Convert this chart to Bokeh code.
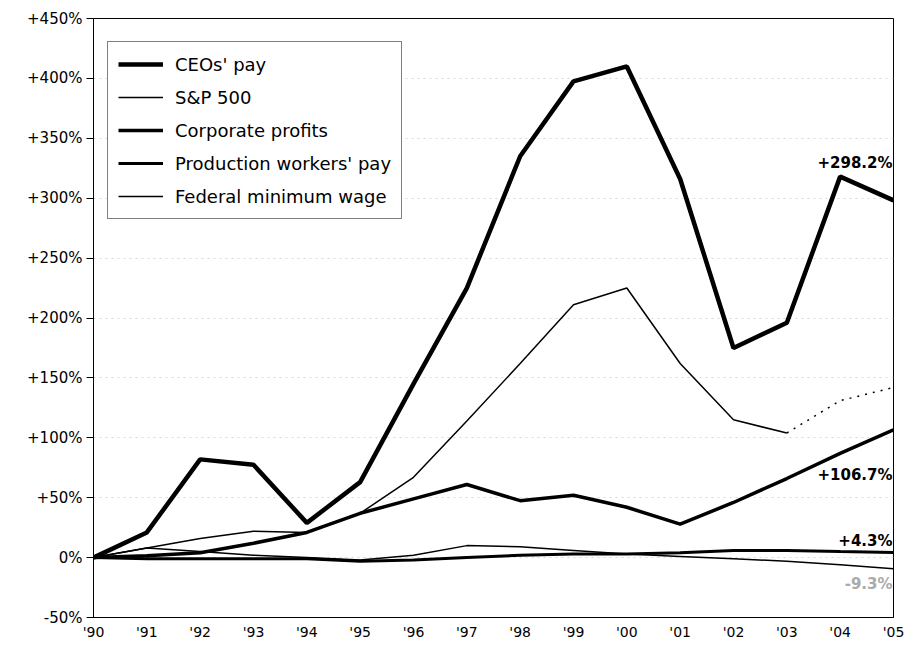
from bokeh.plotting import figure
from bokeh.models import Range1d, FixedTicker, Legend, LegendItem, Label
from bokeh.embed import file_html
from bokeh.resources import INLINE

years = list(range(1990, 2006))
year_labels = ["'90", "'91", "'92", "'93", "'94", "'95", "'96", "'97",
               "'98", "'99", "'00", "'01", "'02", "'03", "'04", "'05"]

ceo_pay = [0, 21, 82, 77.5, 29, 63, 145, 225, 335, 397.5, 410, 316, 175, 196, 318, 298.2]
sp500_solid = [0, 8, 16, 22, 21, 37, 67, 114, 162, 211, 225, 162, 115, 104]
sp500_dotted_years = [2003, 2004, 2005]
sp500_dotted = [104, 131, 142]
corp_profits = [0, 1.5, 4, 12, 21, 37, 49, 61, 47.5, 52, 42, 28, 46, 66, 87, 106.7]
workers_pay = [0, -1, -1, -1, -1, -3, -2, 0, 2, 3, 3, 4, 6, 6, 5, 4.3]
min_wage = [0, 8, 5, 2, 0, -2, 2, 10, 9, 6, 3, 1, -1, -3, -6, -9.3]

y_ticks = [-50, 0, 50, 100, 150, 200, 250, 300, 350, 400, 450]
y_labels = {v: ("+%d%%" % v if v > 0 else "%d%%" % v) for v in y_ticks}

end_labels = [("+298.2%", 2005, 329, "#000000"),
              ("+106.7%", 2005, 69, "#000000"),
              ("+4.3%", 2005, 14, "#000000"),
              ("-9.3%", 2005, -22, "#aaaaaa")]

FONT = "DejaVu Sans"

p = figure(width=916, height=650, output_backend="svg", toolbar_location=None,
           x_range=Range1d(1990, 2005), y_range=Range1d(-50, 450),
           min_border_left=93, min_border_right=23, min_border_top=18,
           min_border_bottom=33)
p.background_fill_color = "white"
p.border_fill_color = "white"
p.outline_line_color = "black"
p.outline_line_width = 1

p.xgrid.grid_line_color = None
p.ygrid.grid_line_color = "#d8d8d8"
p.ygrid.grid_line_dash = "dotted"
p.ygrid.ticker = FixedTicker(ticks=y_ticks)

p.yaxis.ticker = FixedTicker(ticks=y_ticks)
p.yaxis.major_label_overrides = y_labels
p.yaxis.major_label_text_font = FONT
p.yaxis.major_label_text_font_size = "15px"
p.yaxis.major_label_text_color = "black"
p.yaxis.major_tick_out = 7
p.yaxis.major_tick_in = 0
p.yaxis.minor_tick_line_color = None
p.yaxis.axis_line_color = "black"
p.yaxis.major_label_standoff = 4

p.xaxis.ticker = FixedTicker(ticks=years)
p.xaxis.major_label_overrides = {y: l for y, l in zip(years, year_labels)}
p.xaxis.major_label_text_font = FONT
p.xaxis.major_label_text_font_size = "14px"
p.xaxis.major_label_text_color = "black"
p.xaxis.major_tick_out = 0
p.xaxis.major_tick_in = 0
p.xaxis.minor_tick_line_color = None
p.xaxis.axis_line_color = "black"
p.xaxis.major_label_standoff = 6

r_min = p.line(years, min_wage, line_color="black", line_width=1.5)
r_work = p.line(years, workers_pay, line_color="black", line_width=3)
r_corp = p.line(years, corp_profits, line_color="black", line_width=3.5)
r_sp = p.line(years[:len(sp500_solid)], sp500_solid, line_color="black", line_width=1.5)
p.line(sp500_dotted_years, sp500_dotted, line_color="black", line_width=1.5, line_dash="2 6")
r_ceo = p.line(years, ceo_pay, line_color="black", line_width=4.5)

legend = Legend(items=[
    LegendItem(label="CEOs' pay", renderers=[r_ceo]),
    LegendItem(label="S&P 500", renderers=[r_sp]),
    LegendItem(label="Corporate profits", renderers=[r_corp]),
    LegendItem(label="Production workers' pay", renderers=[r_work]),
    LegendItem(label="Federal minimum wage", renderers=[r_min]),
], location=(14, 398))
legend.label_text_font = FONT
legend.label_text_font_size = "18px"
legend.label_text_color = "black"
legend.glyph_width = 45
legend.label_standoff = 12
legend.label_height = 24
legend.glyph_height = 24
legend.spacing = 9
legend.padding = 10
legend.margin = 0
legend.border_line_color = "black"
legend.border_line_width = 1
legend.background_fill_alpha = 1
p.add_layout(legend)

for txt, xv, yv, col in end_labels:
    p.add_layout(Label(x=xv, y=yv, text=txt, text_align="right",
                       text_baseline="middle", text_font=FONT,
                       text_font_size="15px", text_font_style="bold",
                       text_color=col, x_offset=-1))

open("out.html", "w").write(file_html(p, INLINE))
